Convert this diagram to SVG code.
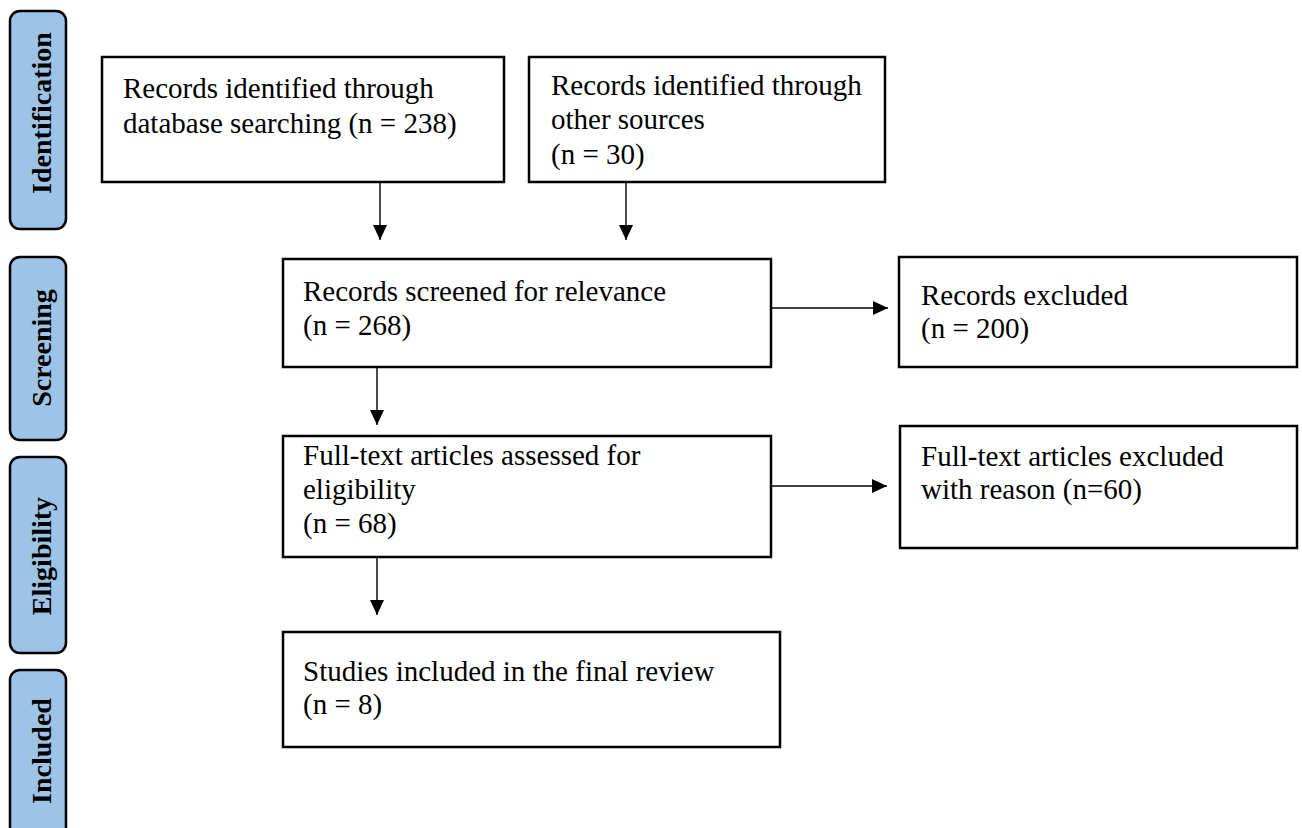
<svg xmlns="http://www.w3.org/2000/svg" width="1302" height="828" viewBox="0 0 1302 828">
<style>
.box{fill:#fff;stroke:#000;stroke-width:2.5}
.phase{fill:#9dc3e6;stroke:#000;stroke-width:2.5}
.t{font-family:"Liberation Serif","Times New Roman",serif;font-size:29px;fill:#000}
.pt{font-family:"Liberation Serif","Times New Roman",serif;font-size:28px;font-weight:bold;fill:#000;text-anchor:middle}
.arr{stroke:#000;stroke-width:1.4;fill:none;marker-end:url(#ah)}
</style>
<defs>
<marker id="ah" viewBox="0 0 15 14" refX="15" refY="7" markerWidth="15" markerHeight="14" markerUnits="userSpaceOnUse" orient="auto">
<path d="M0,0 L15,7 L0,14 Z" fill="#000"/>
</marker>
</defs>
<rect width="1302" height="828" fill="#fff"/>

<g id="phase-identification">
<rect class="phase" x="10" y="11" width="56" height="218" rx="10"/>
<text class="pt" transform="translate(51,113) rotate(-90)">Identification</text>
</g>
<g id="phase-screening">
<rect class="phase" x="10" y="257" width="56" height="183" rx="10"/>
<text class="pt" transform="translate(51,348) rotate(-90)">Screening</text>
</g>
<g id="phase-eligibility">
<rect class="phase" x="10" y="457" width="56" height="196" rx="10"/>
<text class="pt" transform="translate(51,556) rotate(-90)">Eligibility</text>
</g>
<g id="phase-included">
<rect class="phase" x="10" y="670" width="56" height="168" rx="10"/>
<text class="pt" transform="translate(51,751) rotate(-90)">Included</text>
</g>

<g id="node-db">
<rect class="box" x="102" y="57" width="402" height="125"/>
<text class="t" x="123" y="98">Records identified through</text>
<text class="t" x="123" y="133">database searching (n = 238)</text>
</g>
<g id="node-other">
<rect class="box" x="529" y="57" width="356" height="125"/>
<text class="t" x="551" y="95">Records identified through</text>
<text class="t" x="551" y="129">other sources</text>
<text class="t" x="551" y="164">(n = 30)</text>
</g>
<g id="node-screened">
<rect class="box" x="283" y="259" width="488" height="108"/>
<text class="t" x="303" y="301">Records screened for relevance</text>
<text class="t" x="303" y="335">(n = 268)</text>
</g>
<g id="node-excluded">
<rect class="box" x="899" y="257" width="398" height="110"/>
<text class="t" x="921" y="305">Records excluded</text>
<text class="t" x="921" y="338">(n = 200)</text>
</g>
<g id="node-fulltext">
<rect class="box" x="283" y="436" width="488" height="121"/>
<text class="t" x="303" y="465">Full-text articles assessed for</text>
<text class="t" x="303" y="499">eligibility</text>
<text class="t" x="303" y="533">(n = 68)</text>
</g>
<g id="node-ftexcluded">
<rect class="box" x="900" y="426" width="397" height="122"/>
<text class="t" x="921" y="466">Full-text articles excluded</text>
<text class="t" x="921" y="499">with reason (n=60)</text>
</g>
<g id="node-included">
<rect class="box" x="283" y="632" width="497" height="115"/>
<text class="t" x="303" y="681">Studies included in the final review</text>
<text class="t" x="303" y="714">(n = 8)</text>
</g>

<g id="connectors">
<line class="arr" x1="380" y1="183" x2="380" y2="240"/>
<line class="arr" x1="626" y1="183" x2="626" y2="240"/>
<line class="arr" x1="377" y1="368" x2="377" y2="425"/>
<line class="arr" x1="377" y1="558" x2="377" y2="615"/>
<line class="arr" x1="772" y1="308" x2="888" y2="308"/>
<line class="arr" x1="772" y1="486" x2="887" y2="486"/>
</g>
</svg>
